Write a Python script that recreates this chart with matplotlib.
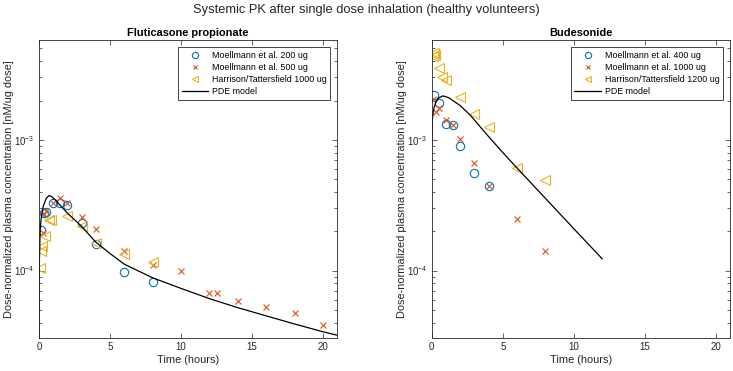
import matplotlib
matplotlib.use("Agg")
import matplotlib.pyplot as plt

plt.rcParams['font.family'] = ['Liberation Sans', 'DejaVu Sans']
plt.rcParams['mathtext.fontset'] = 'custom'
plt.rcParams['mathtext.rm'] = 'Liberation Sans'

BLUE = '#0072BD'
RED = '#D95319'
YELLOW = '#EDB120'

# Fluticasone propionate (time in hours, concentration in nM/ug dose)
flu_t_200 = [0.17, 0.33, 0.5, 1, 1.5, 2, 3, 4, 6, 8]
flu_c_200 = [2.05e-4, 2.78e-4, 2.83e-4, 3.3e-4, 3.3e-4, 3.16e-4, 2.33e-4, 1.6e-4, 9.7e-5, 8.2e-5]
flu_t_500 = [0.25, 0.33, 0.5, 1, 1.5, 2, 3, 4, 6, 8, 10, 12, 12.5, 14, 16, 18, 20]
flu_c_500 = [1.95e-4, 2.7e-4, 2.85e-4, 3.3e-4, 3.57e-4, 3.3e-4, 2.56e-4, 2.07e-4, 1.4e-4,
             1.1e-4, 1.0e-4, 6.7e-5, 6.7e-5, 5.85e-5, 5.25e-5, 4.7e-5, 3.8e-5]
flu_t_1000 = [0.05, 0.12, 0.21, 0.42, 0.7, 0.85, 2, 3, 4, 6, 8]
flu_c_1000 = [1.05e-4, 1.4e-4, 1.53e-4, 1.84e-4, 2.42e-4, 2.45e-4, 2.6e-4, 2.2e-4, 1.63e-4, 1.34e-4, 1.16e-4]
flu_model_t = [0, 0.03, 0.08, 0.15, 0.3, 0.5, 0.7, 0.9, 1.2, 1.5, 2, 3, 4, 5, 6, 8, 10, 12, 14, 16, 18, 20, 21]
flu_model_c = [3.0e-5, 1.2e-4, 2.0e-4, 2.5e-4, 3.1e-4, 3.55e-4, 3.75e-4, 3.68e-4, 3.42e-4, 3.15e-4,
               2.75e-4, 2.18e-4, 1.65e-4, 1.35e-4, 1.12e-4, 8.8e-5, 7.3e-5, 6.1e-5, 5.2e-5,
               4.5e-5, 3.9e-5, 3.4e-5, 3.2e-5]

# Budesonide
bud_t_400 = [0.17, 0.5, 1, 1.5, 2, 3, 4]
bud_c_400 = [2.21e-3, 1.93e-3, 1.33e-3, 1.3e-3, 9.05e-4, 5.55e-4, 4.47e-4]
bud_t_1000 = [0.1, 0.33, 0.5, 1, 1.5, 2, 3, 4, 6, 8]
bud_c_1000 = [2.05e-3, 1.62e-3, 1.75e-3, 1.41e-3, 1.29e-3, 1.01e-3, 6.7e-4, 4.47e-4, 2.47e-4, 1.42e-4]
bud_t_1200 = [0.08, 0.17, 0.25, 0.5, 0.75, 1, 2, 3, 4, 6, 8]
bud_c_1200 = [4.35e-3, 4.6e-3, 4.45e-3, 3.53e-3, 3.05e-3, 2.85e-3, 2.14e-3, 1.57e-3, 1.25e-3, 6.06e-4, 4.92e-4]
bud_model_t = [0, 0.05, 0.15, 0.3, 0.5, 0.8, 1.2, 2, 2.7, 4, 5, 6, 8, 10, 12]
bud_model_c = [9e-4, 1.45e-3, 1.75e-3, 1.95e-3, 2.1e-3, 2.17e-3, 2.1e-3, 1.83e-3, 1.55e-3,
               1.06e-3, 8.0e-4, 6.1e-4, 3.57e-4, 2.09e-4, 1.23e-4]

panels = [
    ("Fluticasone propionate",
     [(flu_t_200, flu_c_200, "Moellmann et al. 200 ug"),
      (flu_t_500, flu_c_500, "Moellmann et al. 500 ug"),
      (flu_t_1000, flu_c_1000, "Harrison/Tattersfield 1000 ug")],
     flu_model_t, flu_model_c),
    ("Budesonide",
     [(bud_t_400, bud_c_400, "Moellmann et al. 400 ug"),
      (bud_t_1000, bud_c_1000, "Moellmann et al. 1000 ug"),
      (bud_t_1200, bud_c_1200, "Harrison/Tattersfield 1200 ug")],
     bud_model_t, bud_model_c),
]

fig = plt.figure(figsize=(7.33, 3.71), dpi=100)
fig.suptitle("Systemic PK after single dose inhalation (healthy volunteers)",
             fontsize=9.3, y=0.99, color='#262626')

lefts = [0.0532, 0.589]
for left, (title, series, mt, mc) in zip(lefts, panels):
    ax = fig.add_axes([left, 0.089, 0.407, 0.803])
    (t1, c1, l1), (t2, c2, l2), (t3, c3, l3) = series
    ax.semilogy(t1, c1, 'o', mfc='none', mec=BLUE, ms=6, mew=0.8, label=l1)
    ax.semilogy(t2, c2, 'x', color=RED, ms=4.5, mew=0.8, label=l2)
    ax.semilogy(t3, c3, '<', mfc='none', mec=YELLOW, ms=6.5, mew=0.8, label=l3)
    ax.semilogy(mt, mc, '-', color='black', lw=0.9, label="PDE model")

    ax.set_xlim(0, 21)
    ax.set_ylim(3.05e-5, 5.8e-3)
    ax.set_xticks([0, 5, 10, 15, 20])
    ax.set_title(title, fontsize=7.9, fontweight='bold', pad=3, color='black')
    ax.set_xlabel("Time (hours)", fontsize=7.9, labelpad=2, color='#262626')
    ax.set_ylabel("Dose-normalized plasma concentration [nM/ug dose]", fontsize=7.9,
                  labelpad=0, color='#262626')
    ax.tick_params(which='both', direction='in', top=True, right=True,
                   labelsize=7, colors='#262626', width=0.5)
    ax.tick_params(which='major', length=3.5, pad=3)
    ax.tick_params(which='minor', length=2)
    for s in ax.spines.values():
        s.set_color('#262626')
        s.set_linewidth(0.6)

    leg = ax.legend(loc='upper right', fontsize=6.4, labelspacing=0.35,
                    handlelength=3.0, handletextpad=0.4, borderaxespad=0.8,
                    fancybox=False, framealpha=1, borderpad=0.4, markerscale=0.75)
    leg.get_frame().set_edgecolor('#262626')
    leg.get_frame().set_linewidth(0.6)

fig.savefig("out.png", dpi=100)
